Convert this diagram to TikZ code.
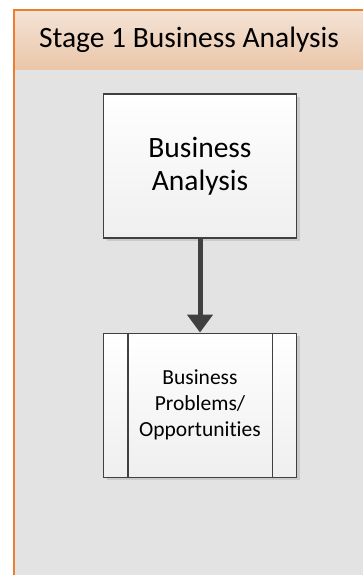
\documentclass[tikz,border=0pt]{standalone}
\usepackage{fontspec}
\setmainfont{Carlito}[Ligatures=NoCommon]
\usetikzlibrary{arrows.meta,shadows}

\definecolor{laneorange}{HTML}{ED7D31}
\definecolor{lanegray}{HTML}{E3E3E3}
\definecolor{headtop}{HTML}{F4E3D6}
\definecolor{headbot}{HTML}{EAC6A9}
\definecolor{boxgray}{HTML}{404040}
\definecolor{boxfill}{HTML}{EFEFEF}

\begin{document}
\begin{tikzpicture}[x=1pt,y=-1pt,
		process/.style={draw=boxgray,line width=1.5pt,top color=white,bottom color=boxfill,
			minimum width=193pt,minimum height=144pt,align=center,inner sep=0pt,
			drop shadow={shadow xshift=3pt,shadow yshift=-3pt,opacity=0.25,fill=gray}},
		flow/.style={draw=boxgray,line width=5pt,-{Triangle[width=25pt,length=18pt]}}]

		\useasboundingbox (0,0) rectangle (363,575);
		% lane
		\fill [lanegray] (14,70) rectangle (370,580);
		\shade [top color=headtop,bottom color=headbot] (14,10) rectangle (370,70);
		\draw [laneorange,line width=1.5pt] (14,580) -- (14,10) -- (370,10);
		\node [font=\fontsize{29.5}{32}\selectfont] at (189,40) (title) {Stage 1 Business Analysis};

		\node [process,font=\fontsize{29.5}{33.5}\selectfont] at (200,166) (ba) {Business\\Analysis};
		\node [process,font=\fontsize{21.5}{26}\selectfont] at (200,405.3) (bp) {Business\\Problems/\\Opportunities};
		\draw [boxgray,line width=1.5pt] ([xshift=25pt]bp.north west) -- ([xshift=25pt]bp.south west);
		\draw [boxgray,line width=1.5pt] ([xshift=-25pt]bp.north east) -- ([xshift=-25pt]bp.south east);

		\draw [flow] (ba) -- (bp);
	\end{tikzpicture}
\end{document}
